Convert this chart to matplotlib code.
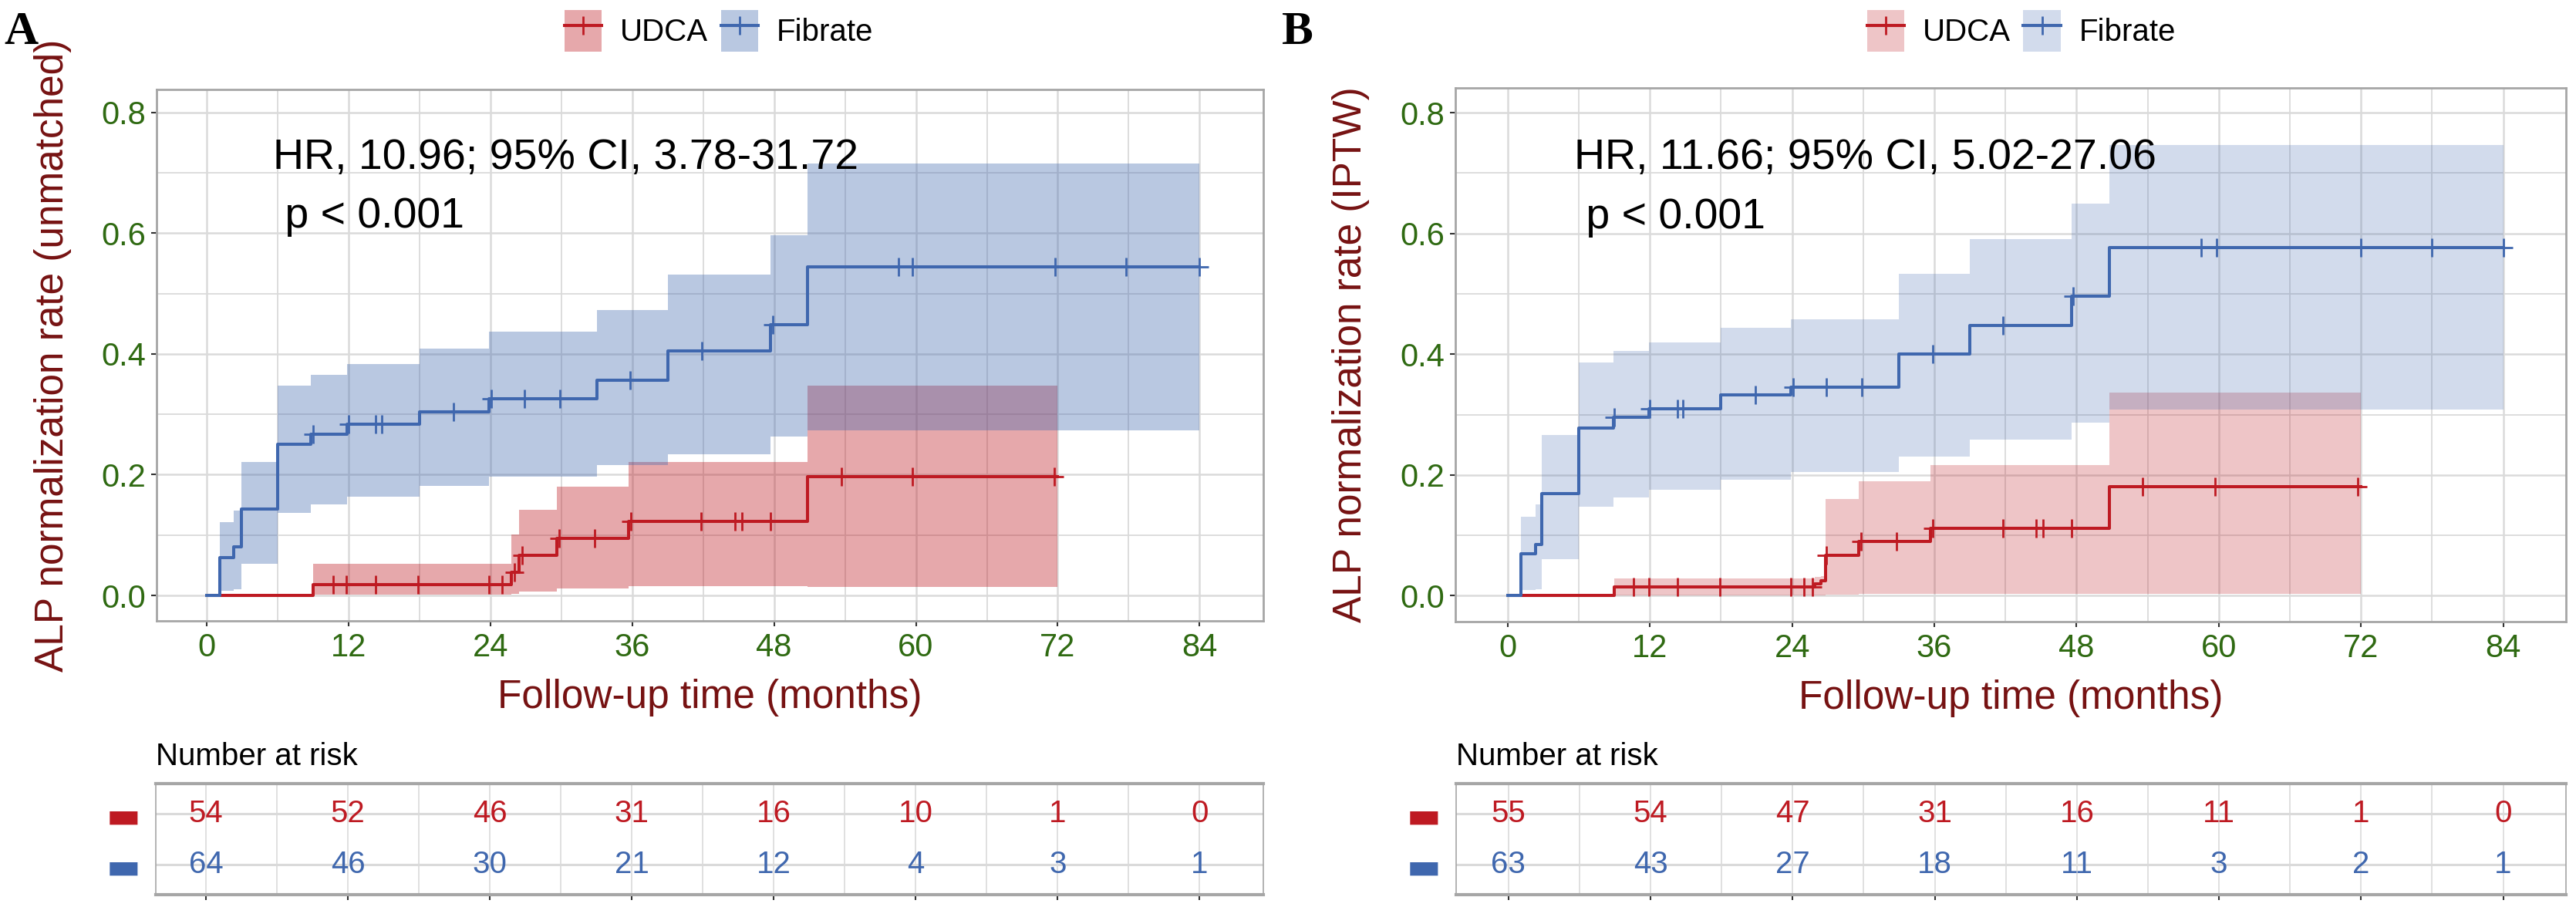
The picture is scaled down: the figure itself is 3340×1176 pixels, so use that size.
import matplotlib
matplotlib.use('Agg')
import matplotlib.pyplot as plt
from matplotlib.patches import Patch
from matplotlib.lines import Line2D
from matplotlib.ticker import MultipleLocator
import numpy as np

plt.rcParams['font.family'] = ['Liberation Sans', 'DejaVu Sans']

# ---- donnees ----
# Panel A (unmatched)
a_udca_t = [0, 9.0, 25.8, 26.4, 29.6, 35.7, 50.8]
a_udca_s = [0, 0.018, 0.039, 0.067, 0.094, 0.123, 0.197]
a_udca_end = 72
a_udca_lo = [0.001, 0.003, 0.007, 0.011, 0.016, 0.014]
a_udca_hi = [0.053, 0.101, 0.142, 0.180, 0.221, 0.348]
a_udca_cens = [10.7, 11.8, 14.3, 17.9, 23.9, 25.0, 26.0, 26.7, 29.8, 32.8,
               35.9, 41.8, 44.7, 45.3, 47.7, 53.7, 59.7, 71.7]

a_fib_t = [0, 1.1, 2.3, 2.9, 6.0, 8.8, 11.9, 18.0, 23.9, 33.0, 39.0, 47.7, 50.8]
a_fib_s = [0, 0.063, 0.080, 0.143, 0.251, 0.267, 0.284, 0.304, 0.326, 0.357,
           0.405, 0.449, 0.544]
a_fib_end = 84
a_fib_lo = [0.008, 0.010, 0.052, 0.137, 0.151, 0.163, 0.181, 0.197, 0.216,
            0.234, 0.263, 0.273]
a_fib_hi = [0.122, 0.141, 0.221, 0.348, 0.365, 0.383, 0.409, 0.437, 0.473,
            0.532, 0.597, 0.715]
a_fib_cens = [9.0, 12.0, 14.3, 14.8, 20.9, 24.1, 26.9, 29.9, 35.8, 41.9, 47.9,
              58.5, 59.7, 71.8, 77.8, 84.0]

# Panel B (IPTW)
b_udca_t = [0, 9.0, 25.9, 26.4, 26.8, 29.6, 35.7, 50.8]
b_udca_s = [0, 0.014, 0.019, 0.025, 0.067, 0.090, 0.112, 0.180]
b_udca_end = 72
b_udca_lo = [0.0, 0.001, 0.001, 0.002, 0.003, 0.003, 0.003]
b_udca_hi = [0.029, 0.031, 0.033, 0.160, 0.189, 0.216, 0.337]
b_udca_cens = [10.6, 11.9, 14.3, 17.9, 23.9, 25.0, 25.7, 26.9, 29.8, 32.8,
               35.9, 41.8, 44.6, 45.2, 47.6, 53.6, 59.7, 71.7]

b_fib_t = [0, 1.1, 2.35, 2.9, 6.0, 8.9, 11.9, 18.0, 23.9, 33.0, 39.0, 47.6, 50.8]
b_fib_s = [0, 0.069, 0.085, 0.169, 0.278, 0.295, 0.310, 0.332, 0.346, 0.400,
           0.447, 0.496, 0.577]
b_fib_end = 84
b_fib_lo = [0.009, 0.011, 0.060, 0.148, 0.163, 0.175, 0.192, 0.205, 0.230,
            0.258, 0.287, 0.308]
b_fib_hi = [0.131, 0.151, 0.266, 0.386, 0.406, 0.420, 0.444, 0.458, 0.533,
            0.591, 0.649, 0.746]
b_fib_cens = [9.0, 12.0, 14.3, 14.8, 20.9, 24.1, 26.9, 29.9, 35.9, 41.8, 47.7,
              58.5, 59.8, 72.0, 78.0, 84.0]

# tables des effectifs
risk_times = [0, 12, 24, 36, 48, 60, 72, 84]
a_risk_udca = [54, 52, 46, 31, 16, 10, 1, 0]
a_risk_fib = [64, 46, 30, 21, 12, 4, 3, 1]
b_risk_udca = [55, 54, 47, 31, 16, 11, 1, 0]
b_risk_fib = [63, 43, 27, 18, 11, 3, 2, 1]

groups = ['UDCA', 'Fibrate']
a_hr_text = 'HR, 10.96; 95% CI, 3.78-31.72'
b_hr_text = 'HR, 11.66; 95% CI, 5.02-27.06'
p_text = ' p < 0.001'

# ---- styles ----
RED = '#BE1A22'
BLUE = '#3F67AE'
GREEN = '#2F6A12'
MAROON = '#761212'
GRID = '#DADADA'
BORDER = '#A6A6A6'


def courbe(ax, t, s, t_end, lo, hi, cens, color, alpha):
    tt = list(t) + [t_end]
    ss = list(s) + [s[-1]]
    ct = list(t[1:]) + [t_end]
    ax.fill_between(ct, list(lo) + [lo[-1]], list(hi) + [hi[-1]], step='post',
                    color=color, alpha=alpha, lw=0, zorder=2)
    ax.step(tt, ss, where='post', color=color, lw=2.9, zorder=4)
    idx = np.searchsorted(t, cens, side='right') - 1
    ax.plot(cens, np.array(s)[idx], '+', color=color, ms=17, mew=2.0, zorder=5)


def panneau(ax, data_udca, data_fib, alpha_r, alpha_b, xlim, ylim, ylabel, hr):
    courbe(ax, *data_udca, RED, alpha_r)
    courbe(ax, *data_fib, BLUE, alpha_b)
    ax.set_xlim(*xlim)
    ax.set_ylim(*ylim)
    ax.xaxis.set_major_locator(MultipleLocator(12))
    ax.xaxis.set_minor_locator(MultipleLocator(6))
    ax.yaxis.set_major_locator(MultipleLocator(0.2))
    ax.yaxis.set_minor_locator(MultipleLocator(0.1))
    ax.set_yticks([0, 0.2, 0.4, 0.6, 0.8])
    ax.set_yticklabels(['0.0', '0.2', '0.4', '0.6', '0.8'])
    ax.grid(which='major', color=GRID, lw=1.8, zorder=0)
    ax.grid(which='minor', color=GRID, lw=1.3, zorder=0)
    ax.set_axisbelow(True)
    ax.tick_params(which='major', labelsize=30, labelcolor=GREEN, color='#333333',
                   length=5, width=1.5)
    ax.tick_params(axis='x', pad=6)
    ax.tick_params(axis='y', pad=5)
    ax.tick_params(which='minor', length=0)
    for sp in ax.spines.values():
        sp.set_color(BORDER)
        sp.set_linewidth(2)
    ax.set_xlabel('Follow-up time (months)', fontsize=37, color=MAROON, labelpad=14)
    ax.set_ylabel(ylabel, fontsize=37, color=MAROON)
    ax.yaxis.set_label_coords(-0.077, 0.5)
    ax.text(5.6, 0.707, hr, fontsize=40, ha='left', va='baseline', zorder=6)
    ax.text(5.6, 0.609, p_text, fontsize=40, ha='left', va='baseline', zorder=6)


def table(ax, r_udca, r_fib, xlim):
    ax.set_xlim(*xlim)
    ax.set_ylim(0.4, 2.6)
    for x, n in zip(risk_times, r_udca):
        ax.text(x, 2, str(n), ha='center', va='center', fontsize=29, color=RED)
    for x, n in zip(risk_times, r_fib):
        ax.text(x, 1, str(n), ha='center', va='center', fontsize=29, color=BLUE)
    ax.xaxis.set_major_locator(MultipleLocator(12))
    ax.xaxis.set_minor_locator(MultipleLocator(6))
    ax.set_yticks([2, 1])
    ax.set_yticklabels(['\u25ac', '\u25ac'], family='DejaVu Sans', fontsize=34)
    for lab, c in zip(ax.get_yticklabels(), [RED, BLUE]):
        lab.set_color(c)
    ax.tick_params(axis='y', length=0, pad=14)
    ax.tick_params(axis='x', which='major', labelbottom=False, length=5,
                   width=1.5, color='#333333')
    ax.tick_params(axis='x', which='minor', length=0)
    ax.grid(axis='x', which='both', color=GRID, lw=1.2)
    ax.grid(axis='y', color=GRID, lw=2.2)
    ax.set_axisbelow(True)
    for sp in ax.spines.values():
        sp.set_color(BORDER)
        sp.set_linewidth(1.2)
    ax.spines['top'].set_linewidth(3)
    ax.spines['bottom'].set_linewidth(3)
    ax.text(0.0, 1.17, 'Number at risk', transform=ax.transAxes, fontsize=29,
            ha='left', va='baseline')


fig = plt.figure(figsize=(33.41, 11.76), dpi=100)

axA = fig.add_axes([0.0608, 0.3155, 0.4295, 0.5859])
axB = fig.add_axes([0.5648, 0.3146, 0.4310, 0.5884])
tabA = fig.add_axes([0.0605, 0.0136, 0.4298, 0.1224])
tabB = fig.add_axes([0.5651, 0.0136, 0.4307, 0.1224])

panneau(axA,
        (a_udca_t, a_udca_s, a_udca_end, a_udca_lo, a_udca_hi, a_udca_cens),
        (a_fib_t, a_fib_s, a_fib_end, a_fib_lo, a_fib_hi, a_fib_cens),
        0.38, 0.36, (-4.24, 89.4), (-0.042, 0.838),
        'ALP normalization rate (unmatched)', a_hr_text)
panneau(axB,
        (b_udca_t, b_udca_s, b_udca_end, b_udca_lo, b_udca_hi, b_udca_cens),
        (b_fib_t, b_fib_s, b_fib_end, b_fib_lo, b_fib_hi, b_fib_cens),
        0.25, 0.23, (-4.42, 89.3), (-0.043, 0.841),
        'ALP normalization rate (IPTW)', b_hr_text)

table(tabA, a_risk_udca, a_risk_fib, (-4.24, 89.4))
table(tabB, b_risk_udca, b_risk_fib, (-4.42, 89.3))

# legendes
for xc, ar, ab in [(0.279, 0.38, 0.36), (0.7845, 0.25, 0.23)]:
    handles = [(Patch(facecolor=RED, alpha=ar, lw=0),
                Line2D([], [], color=RED, lw=2.9, marker='+', ms=17, mew=2.0)),
               (Patch(facecolor=BLUE, alpha=ab, lw=0),
                Line2D([], [], color=BLUE, lw=2.9, marker='+', ms=17, mew=2.0))]
    fig.legend(handles, groups, loc='center', bbox_to_anchor=(xc, 0.966), ncol=2,
               frameon=False, fontsize=29, handlelength=1.2, handleheight=1.7,
               handletextpad=0.6, columnspacing=0.4)

# lettres des panneaux
fig.text(0.0015, 0.9515, 'A', fontsize=44, fontweight='bold',
         family='Liberation Serif', ha='left', va='baseline')
fig.text(0.4975, 0.9515, 'B', fontsize=44, fontweight='bold',
         family='Liberation Serif', ha='left', va='baseline')

fig.savefig('out.png', dpi=100)
